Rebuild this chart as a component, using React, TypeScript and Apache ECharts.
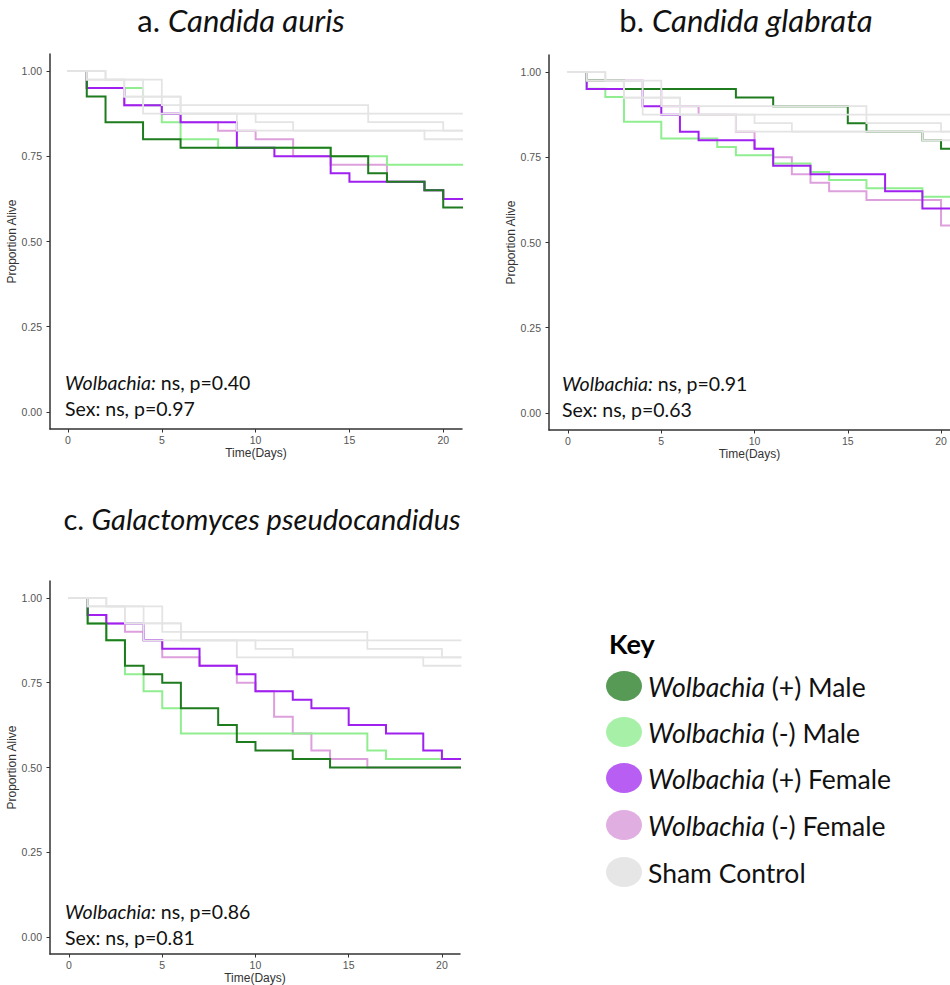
import React, { useEffect, useRef } from "react";
import * as echarts from "echarts";

// ---------- tick values ----------
const DAY_TICKS = [0, 5, 10, 15, 20];
const PROP_TICKS = [0, 0.25, 0.5, 0.75, 1];

// ---------- Sham control (same groups in each panel) ----------
const shamDays1 = [0, 2, 5, 16, 20, 21];
const shamSurv1 = [1, 0.975, 0.9, 0.85, 0.825, 0.825];
const shamDays2 = [0, 1, 4, 21];
const shamSurv2 = [1, 0.975, 0.875, 0.875];
const shamDays3 = [0, 1, 3, 6, 10, 12, 19, 21];
const shamSurv3 = [1, 0.975, 0.925, 0.875, 0.85, 0.825, 0.8, 0.8];
const shamDays4 = [0, 2, 3, 6, 9, 21];
const shamSurv4 = [1, 0.975, 0.925, 0.875, 0.825, 0.825];

// ---------- a. Candida auris ----------
const aurisWpMaleDays = [0, 1, 2, 4, 6, 14, 16, 17, 19, 20, 21];
const aurisWpMaleSurv = [1, 0.925, 0.85, 0.8, 0.775, 0.75, 0.7, 0.675, 0.65, 0.6, 0.6];
const aurisWmMaleDays = [0, 1, 4, 5, 6, 8, 14, 17, 21];
const aurisWmMaleSurv = [1, 0.95, 0.9, 0.85, 0.8, 0.775, 0.75, 0.725, 0.725];
const aurisWpFemaleDays = [0, 1, 3, 5, 6, 9, 11, 14, 15, 19, 20, 21];
const aurisWpFemaleSurv = [1, 0.95, 0.9, 0.875, 0.85, 0.775, 0.75, 0.7, 0.675, 0.65, 0.625, 0.625];
const aurisWmFemaleDays = [0, 1, 3, 5, 6, 8, 10, 12, 14, 17, 19, 20, 21];
const aurisWmFemaleSurv = [1, 0.95, 0.9, 0.875, 0.85, 0.825, 0.8, 0.75, 0.725, 0.675, 0.65, 0.625, 0.625];

// ---------- b. Candida glabrata ----------
const glabWpMaleDays = [0, 1, 3, 9, 11, 15, 16, 19, 20, 21];
const glabWpMaleSurv = [1, 0.975, 0.95, 0.925, 0.9, 0.85, 0.825, 0.8, 0.775, 0.775];
const glabWmMaleDays = [0, 1, 2, 3, 5, 8, 9, 11, 13, 14, 16, 19, 21];
const glabWmMaleSurv = [1, 0.951, 0.927, 0.854, 0.805, 0.78, 0.756, 0.732, 0.707, 0.683, 0.659, 0.634, 0.634];
const glabWpFemaleDays = [0, 1, 4, 5, 6, 7, 10, 11, 13, 17, 19, 21];
const glabWpFemaleSurv = [1, 0.95, 0.9, 0.875, 0.825, 0.8, 0.775, 0.725, 0.7, 0.65, 0.6, 0.6];
const glabWmFemaleDays = [0, 1, 4, 5, 7, 9, 10, 11, 12, 13, 14, 16, 20, 21];
const glabWmFemaleSurv = [1, 0.975, 0.95, 0.9, 0.875, 0.825, 0.775, 0.75, 0.7, 0.675, 0.65, 0.625, 0.55, 0.55];

// ---------- c. Galactomyces pseudocandidus ----------
const galWpMaleDays = [0, 1, 2, 3, 4, 5, 6, 8, 9, 10, 12, 14, 21];
const galWpMaleSurv = [1, 0.925, 0.875, 0.8, 0.775, 0.75, 0.675, 0.625, 0.575, 0.55, 0.525, 0.5, 0.5];
const galWmMaleDays = [0, 1, 2, 3, 4, 5, 6, 16, 17, 21];
const galWmMaleSurv = [1, 0.925, 0.875, 0.775, 0.725, 0.675, 0.6, 0.55, 0.525, 0.525];
const galWpFemaleDays = [0, 1, 2, 4, 5, 7, 9, 10, 12, 13, 15, 17, 19, 20, 21];
const galWpFemaleSurv = [1, 0.95, 0.925, 0.875, 0.85, 0.8, 0.775, 0.725, 0.7, 0.675, 0.625, 0.6, 0.55, 0.525, 0.525];
const galWmFemaleDays = [0, 1, 2, 3, 4, 5, 7, 9, 10, 11, 12, 13, 14, 16, 21];
const galWmFemaleSurv = [1, 0.95, 0.925, 0.9, 0.875, 0.825, 0.8, 0.75, 0.725, 0.65, 0.6, 0.55, 0.525, 0.5, 0.5];

// ---------- texts ----------
const PANEL_PREFIX = ["a. ", "b. ", "c. "];
const PANEL_SPECIES = ["Candida auris", "Candida glabrata", "Galactomyces pseudocandidus"];
const WOLB_P = ["0.40", "0.91", "0.86"];
const SEX_P = ["0.97", "0.63", "0.81"];
const KEY_LABELS = [
  ["Wolbachia", " (+) Male"],
  ["Wolbachia", " (-) Male"],
  ["Wolbachia", " (+) Female"],
  ["Wolbachia", " (-) Female"],
  ["", "Sham Control"],
];

// ---------- styles ----------
const C_WP_MALE = "#1e7b1e";
const C_WM_MALE = "#90ee90";
const C_WP_FEMALE = "#a020f0";
const C_WM_FEMALE = "#dda0dd";
const C_SHAM = "#e4e4e4";
const KEY_COLORS = ["#569a56", "#a7f0a7", "#b85ef2", "#e0aee0", "#e6e6e6"];

const TXT_FONT = "Lato, 'Open Sans', sans-serif";
const AX_FONT = "'Liberation Sans', Arial, sans-serif";
const TITLE_SIZES = [31, 31, 29];
const ANNO_SIZE = 19.5;
const KEY_SIZE = 26.5;

const GRIDS = [
  { left: 50, top: 54, width: 412, height: 375 },
  { left: 549, top: 55, width: 401, height: 375 },
  { left: 50, top: 581, width: 410, height: 373 },
];
const X_RANGES = [
  [-0.96, 21],
  [-1.02, 20.48],
  [-1.02, 20.97],
];

function pairs(days: number[], surv: number[]) {
  return days.map((d, i) => [d, surv[i]]);
}

function stepSeries(name: string, days: number[], surv: number[], color: string, width: number, idx: number) {
  return {
    name,
    type: "line",
    xAxisIndex: idx,
    yAxisIndex: idx,
    step: "end",
    showSymbol: false,
    symbol: "none",
    clip: true,
    silent: true,
    data: pairs(days, surv),
    lineStyle: { color, width, cap: "square", join: "miter" },
    itemStyle: { color },
  };
}

const PANELS = [
  {
    wpM: [aurisWpMaleDays, aurisWpMaleSurv],
    wmM: [aurisWmMaleDays, aurisWmMaleSurv],
    wpF: [aurisWpFemaleDays, aurisWpFemaleSurv],
    wmF: [aurisWmFemaleDays, aurisWmFemaleSurv],
  },
  {
    wpM: [glabWpMaleDays, glabWpMaleSurv],
    wmM: [glabWmMaleDays, glabWmMaleSurv],
    wpF: [glabWpFemaleDays, glabWpFemaleSurv],
    wmF: [glabWmFemaleDays, glabWmFemaleSurv],
  },
  {
    wpM: [galWpMaleDays, galWpMaleSurv],
    wmM: [galWmMaleDays, galWmMaleSurv],
    wpF: [galWpFemaleDays, galWpFemaleSurv],
    wmF: [galWmFemaleDays, galWmFemaleSurv],
  },
];

const SHAMS = [
  [shamDays1, shamSurv1],
  [shamDays2, shamSurv2],
  [shamDays3, shamSurv3],
  [shamDays4, shamSurv4],
];

function buildOption() {
  const series: any[] = [];
  PANELS.forEach((p, i) => {
    series.push(stepSeries("Wolbachia (-) Female", p.wmF[0], p.wmF[1], C_WM_FEMALE, 2, i));
    series.push(stepSeries("Wolbachia (-) Male", p.wmM[0], p.wmM[1], C_WM_MALE, 2, i));
    series.push(stepSeries("Wolbachia (+) Female", p.wpF[0], p.wpF[1], C_WP_FEMALE, 2, i));
    series.push(stepSeries("Wolbachia (+) Male", p.wpM[0], p.wpM[1], C_WP_MALE, 2, i));
    SHAMS.forEach((s) => series.push(stepSeries("Sham Control", s[0], s[1], C_SHAM, 1.8, i)));
  });

  const xAxis = GRIDS.map((_, i) => ({
    type: "value",
    gridIndex: i,
    min: X_RANGES[i][0],
    max: X_RANGES[i][1],
    name: "Time(Days)",
    nameLocation: "middle",
    nameGap: 18,
    nameTextStyle: { color: "#333", fontSize: 12, fontFamily: AX_FONT },
    axisLine: { show: true, onZero: false, lineStyle: { color: "#333", width: 1.5 } },
    axisTick: { show: true, length: 3.5, customValues: DAY_TICKS, lineStyle: { color: "#333", width: 1 } },
    axisLabel: {
      customValues: DAY_TICKS,
      color: "#555",
      fontSize: 10.5,
      fontFamily: AX_FONT,
      margin: 5,
      formatter: (v: number) => String(v),
    },
    splitLine: { show: false },
  }));

  const yAxis = GRIDS.map((_, i) => ({
    type: "value",
    gridIndex: i,
    min: -0.05,
    max: 1.05,
    name: "Proportion Alive",
    nameLocation: "middle",
    nameRotate: 90,
    nameGap: 31,
    nameTextStyle: { color: "#333", fontSize: 12, fontFamily: AX_FONT },
    axisLine: { show: true, onZero: false, lineStyle: { color: "#333", width: 1.5 } },
    axisTick: { show: true, length: 3.5, customValues: PROP_TICKS, lineStyle: { color: "#333", width: 1 } },
    axisLabel: {
      customValues: PROP_TICKS,
      color: "#555",
      fontSize: 10.5,
      fontFamily: AX_FONT,
      margin: 8,
      formatter: (v: number) => v.toFixed(2),
    },
    splitLine: { show: false },
  }));

  const graphics: any[] = [];
  const titlePos = [
    [241, 20],
    [746, 20],
    [262, 518],
  ];
  const annoPos = [
    [65, 382],
    [562, 383],
    [65, 911],
  ];
  for (let i = 0; i < 3; i++) {
    const ts = TITLE_SIZES[i];
    graphics.push({
      type: "text",
      x: titlePos[i][0],
      y: titlePos[i][1],
      style: {
        text: `{n|${PANEL_PREFIX[i]}}{it|${PANEL_SPECIES[i]}}`,
        align: "center",
        verticalAlign: "middle",
        fill: "#111",
        font: `${ts}px ${TXT_FONT}`,
        rich: {
          n: { fontSize: ts, fontFamily: TXT_FONT, fill: "#111" },
          it: { fontSize: ts, fontFamily: TXT_FONT, fontStyle: "italic", fill: "#111" },
        },
      },
    });
    graphics.push({
      type: "text",
      x: annoPos[i][0],
      y: annoPos[i][1],
      style: {
        text: `{it|Wolbachia:}{n| ns, p=${WOLB_P[i]}}`,
        align: "left",
        verticalAlign: "middle",
        fill: "#111",
        font: `${ANNO_SIZE}px ${TXT_FONT}`,
        rich: {
          n: { fontSize: ANNO_SIZE, fontFamily: TXT_FONT, fill: "#111" },
          it: { fontSize: ANNO_SIZE, fontFamily: TXT_FONT, fontStyle: "italic", fill: "#111" },
        },
      },
    });
    graphics.push({
      type: "text",
      x: annoPos[i][0],
      y: annoPos[i][1] + 26,
      style: {
        text: `Sex: ns, p=${SEX_P[i]}`,
        align: "left",
        verticalAlign: "middle",
        fill: "#111",
        font: `${ANNO_SIZE}px ${TXT_FONT}`,
      },
    });
  }

  // Key
  graphics.push({
    type: "text",
    x: 609,
    y: 643,
    style: {
      text: "Key",
      align: "left",
      verticalAlign: "middle",
      fill: "#000",
      font: `bold 27px ${TXT_FONT}`,
    },
  });
  const keyY = [686, 732, 778, 825, 872];
  KEY_LABELS.forEach((lab, k) => {
    graphics.push({
      type: "ellipse",
      shape: { cx: 624, cy: keyY[k], rx: 18, ry: 15 },
      style: { fill: KEY_COLORS[k] },
    });
    const txt = lab[0] ? `{it|${lab[0]}}{n|${lab[1]}}` : `{n|${lab[1]}}`;
    graphics.push({
      type: "text",
      x: 648,
      y: keyY[k] + 1,
      style: {
        text: txt,
        align: "left",
        verticalAlign: "middle",
        fill: "#111",
        font: `${KEY_SIZE}px ${TXT_FONT}`,
        rich: {
          n: { fontSize: KEY_SIZE, fontFamily: TXT_FONT, fill: "#111" },
          it: { fontSize: KEY_SIZE, fontFamily: TXT_FONT, fontStyle: "italic", fill: "#111" },
        },
      },
    });
  });

  return {
    animation: false,
    backgroundColor: "#ffffff",
    grid: GRIDS.map((g) => ({ ...g, containLabel: false })),
    xAxis,
    yAxis,
    series,
    graphic: graphics,
  };
}

export default function App() {
  const ref = useRef<HTMLDivElement>(null);
  useEffect(() => {
    if (!ref.current) return;
    const chart = echarts.init(ref.current, undefined, { renderer: "svg" });
    chart.setOption(buildOption() as any);
    return () => chart.dispose();
  }, []);
  return (
    <div
      ref={ref}
      style={{ position: "absolute", left: 0, top: 0, width: 950, height: 985, background: "#fff" }}
    />
  );
}
